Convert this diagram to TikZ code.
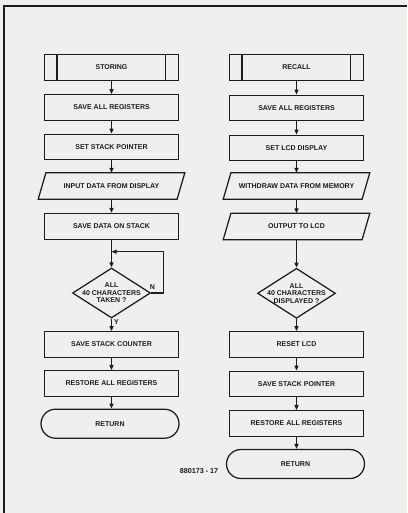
\documentclass[tikz,border=0pt]{standalone}
\usepackage{fontspec}
\setmainfont{Liberation Sans}
\usetikzlibrary{shapes.geometric,arrows.meta}
\definecolor{paper}{HTML}{EFEFED}
\definecolor{ink}{HTML}{1C1C1C}
\tikzset{
  base/.style={font=\fontsize{7}{7.5}\selectfont\bfseries, text=ink, inner sep=0pt, align=center},
  proc/.style={base, draw=ink, line width=1.25pt, rectangle, minimum width=134pt, minimum height=25.5pt},
  predef/.style={proc, minimum height=26pt},
  io/.style={base, minimum width=138.5pt, minimum height=26pt},
  dia/.style={draw=ink, line width=1.25pt, diamond, minimum width=78pt, minimum height=50pt, inner sep=0pt},
  term/.style={proc, minimum width=138pt, minimum height=29pt, rounded corners=14.5pt},
  edge/.style={draw=ink, line width=1.25pt},
  flow/.style={edge, -{Triangle[length=5pt,width=4pt]}},
  frm/.style={draw=ink, line width=1.4pt},
  lbl/.style={base}
}
\begin{document}
\begin{tikzpicture}[x=1pt,y=-1pt]
\fill[paper] (0,0) rectangle (407,513);
\useasboundingbox (0,0) rectangle (407,513);
\draw[frm] (4,513) -- (4,6) -- (407,6);

% left column
\node[predef] (s1) at (111.5,67.5) {STORING};
\node[proc] (s2) at (111.5,107.5) {SAVE ALL REGISTERS};
\node[proc] (s3) at (111.5,147) {SET STACK POINTER};
\node[io] (s4) at (111.5,186) {INPUT DATA FROM DISPLAY};
\node[predef] (s5) at (111.5,226.5) {SAVE DATA ON STACK};
\node[dia] (d1) at (111.5,293) {};
\node[base] (d1t) at (d1) {ALL\\40 CHARACTERS\\TAKEN ?};
\node[proc] (s6) at (111.5,344.5) {SAVE STACK COUNTER};
\node[proc] (s7) at (111.5,383.5) {RESTORE ALL REGISTERS};
\node[term] (s8) at (110,423.7) {RETURN};

% right column
\node[predef] (r1) at (296.5,67.5) {RECALL};
\node[proc] (r2) at (296.5,108) {SAVE ALL REGISTERS};
\node[proc] (r3) at (296.5,148) {SET LCD DISPLAY};
\node[io] (r4) at (296.5,186) {WITHDRAW DATA FROM MEMORY};
\node[io] (r5) at (296.5,226.5) {OUTPUT TO LCD};
\node[dia] (d2) at (296.5,293.3) {};
\node[base] (d2t) at (d2) {ALL\\40 CHARACTERS\\DISPLAYED ?};
\node[proc] (r6) at (296.5,344.5) {RESET LCD};
\node[proc] (r7) at (296.5,384) {SAVE STACK POINTER};
\node[proc] (r8) at (296.5,423.5) {RESTORE ALL REGISTERS};
\node[term] (r9) at (295.5,464) {RETURN};

\node[lbl, font=\fontsize{7.2}{8}\selectfont\bfseries] (code) at (199,471) {880173 - 17};

% predefined-process side bars
\foreach \n in {s1,r1}{
  \draw[edge] ([xshift=13pt]\n.north west) -- ([xshift=13pt]\n.south west);
  \draw[edge] ([xshift=-14pt]\n.north east) -- ([xshift=-14pt]\n.south east);
}
% parallelograms
\foreach \n in {s4,r4,r5}{
  \draw[edge] ([xshift=-3.85pt]\n.south west) -- ([xshift=-3.85pt]\n.south east)
    -- ([xshift=3.85pt]\n.north east) -- ([xshift=3.85pt]\n.north west) -- cycle;
}

% left connectors
\draw[flow] (s1) -- (s2);
\draw[flow] (s2) -- (s3);
\draw[flow] (s3) -- (s4);
\draw[flow] (s4.south) -- (s5);
\coordinate (j) at (111.5,251.7);
\coordinate (c) at (163.5,293);
\draw[flow] (s5) -- (d1.north);
\draw[flow] (d1.east) -- (c) |- (j);
\draw[flow] (d1.south) -- (s6);
\draw[flow] (s6) -- (s7);
\draw[flow] (s7) -- (s7 |- s8.north);
\node[lbl] (nlab) at (152.5,287.5) {N};
\node[lbl] (ylab) at (116.5,322) {Y};

% right connectors
\draw[flow] (r1) -- (r2);
\draw[flow] (r2) -- (r3);
\draw[flow] (r3) -- (r4);
\draw[flow] (r4.south) -- (r5.north);
\draw[flow] (r5.south) -- (d2.north);
\draw[flow] (d2.south) -- (r6);
\draw[flow] (r6) -- (r7);
\draw[flow] (r7) -- (r8);
\draw[flow] (r8) -- (r8 |- r9.north);
\end{tikzpicture}
\end{document}
